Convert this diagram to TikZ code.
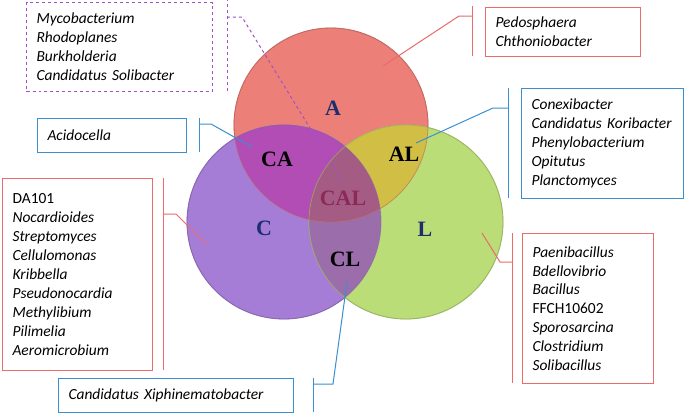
\documentclass[tikz,border=0pt]{standalone}
\usepackage{fontspec}
\setmainfont{Carlito}
\newfontfamily\labfont{Liberation Serif}
\definecolor{aFill}{HTML}{EC7F78}
\definecolor{cFill}{HTML}{A67DD6}
\definecolor{lFill}{HTML}{BBDD77}
\definecolor{caFill}{HTML}{B24DB6}
\definecolor{alFill}{HTML}{D0BE45}
\definecolor{clFill}{HTML}{9B6DAB}
\definecolor{calFill}{HTML}{A45C84}
\definecolor{labBlue}{HTML}{1C2E6E}
\definecolor{calText}{HTML}{8A2A55}
\definecolor{boxRed}{HTML}{EB6A6A}
\definecolor{boxBlue}{HTML}{3A8FD0}
\definecolor{boxViolet}{HTML}{A050C8}
\tikzset{
  genbox/.style={draw, line width=1.1bp, rectangle, anchor=north west, inner xsep=10bp,
    align=left, font=\fontsize{15.5}{19}\selectfont\itshape},
  redbox/.style={genbox, draw=boxRed},
  bluebox/.style={genbox, draw=boxBlue},
  violetbox/.style={genbox, draw=boxViolet, dashed},
  redlink/.style={draw=boxRed, line width=1bp},
  bluelink/.style={draw=boxBlue, line width=1bp},
  violetlink/.style={draw=boxViolet, line width=1bp, dashed},
  setlab/.style={font=\fontsize{22}{22}\selectfont\labfont\bfseries, inner sep=0pt},
}
\begin{document}
\begin{tikzpicture}[x=1bp,y=-1bp]
\useasboundingbox[fill=white] (0,0) rectangle (685,414);
% circles
\node[circle, minimum size=194bp, fill=aFill, draw=aFill!85!black, line width=0.8bp] (A) at (331,125) {};
\node[circle, minimum size=194bp, fill=cFill, draw=cFill!85!black, line width=0.8bp] (C) at (284,222) {};
\node[circle, minimum size=194bp, fill=lFill, draw=lFill!85!black, line width=0.8bp] (L) at (406,222) {};
\begin{scope}
  \clip (C.center) circle[radius=97bp];
  \fill[caFill] (A.center) circle[radius=97bp];
  \fill[clFill] (L.center) circle[radius=97bp];
\end{scope}
\begin{scope}
  \clip (A.center) circle[radius=97bp];
  \fill[alFill] (L.center) circle[radius=97bp];
  \clip (C.center) circle[radius=97bp];
  \fill[calFill] (L.center) circle[radius=97bp];
\end{scope}
\draw[line width=0.8bp, draw=aFill!80!black, opacity=0.6] (A.center) circle[radius=97bp];
\draw[line width=0.8bp, draw=cFill!80!black, opacity=0.6] (C.center) circle[radius=97bp];
\draw[line width=0.8bp, draw=lFill!80!black, opacity=0.6] (L.center) circle[radius=97bp];
% region labels
\node[setlab, text=labBlue] (labA) at (333,108) {A};
\node[setlab, text=labBlue] (labC) at (264,228) {C};
\node[setlab, text=labBlue] (labL) at (425,229) {L};
\node[setlab] (labCA) at (277,159) {CA};
\node[setlab] (labAL) at (404,154) {AL};
\node[setlab, text=calText] (labCAL) at (343,198) {CAL};
\node[setlab] (labCL) at (345,259) {CL};
% boxes
\node[violetbox, text width=166bp, minimum height=89bp] (core) at (26,2)
  {Mycobacterium\\Rhodoplanes\\Burkholderia\\Candidatus Solibacter};
\node[redbox, text width=135bp, minimum height=49bp] (onlyA) at (485,7)
  {Pedosphaera\\Chthoniobacter};
\node[bluebox, text width=142bp, minimum height=110bp] (onlyAL) at (521,88)
  {Conexibacter\\Candidatus Koribacter\\Phenylobacterium\\Opitutus\\Planctomyces};
\node[bluebox, text width=129bp, minimum height=34bp] (onlyCA) at (37,118)
  {Acidocella};
\node[redbox, text width=130bp, minimum height=192bp] (onlyC) at (2,178)
  {\textup{DA101}\\Nocardioides\\Streptomyces\\Cellulomonas\\Kribbella\\Pseudonocardia\\Methylibium\\Pilimelia\\Aeromicrobium\\[6bp]};
\node[redbox, text width=111bp, minimum height=150bp] (onlyL) at (522,233)
  {Paenibacillus\\Bdellovibrio\\Bacillus\\\textup{FFCH10602}\\Sporosarcina\\Clostridium\\Solibacillus};
\node[bluebox, text width=215bp, minimum height=34bp] (onlyCL) at (58,378)
  {Candidatus Xiphinematobacter};
% brackets and links
\coordinate (coreTop) at (227,-2);   \coordinate (coreBot) at (227,92);
\coordinate (coreStub) at (227,17);  \coordinate (coreKnee) at (242,17);
\coordinate (coreEnd) at (343,182);
\draw[violetlink] (coreTop) -- (coreBot);
\draw[violetlink] (coreStub) -- (coreKnee) -- (coreEnd);
\coordinate (aTop) at (472,6);   \coordinate (aBot) at (472,56);
\coordinate (aStub) at (472,16); \coordinate (aKnee) at (459,16);
\coordinate (aEnd) at (383,66);
\draw[redlink] (aTop) -- (aBot);
\draw[redlink] (aStub) -- (aKnee) -- (aEnd);
\coordinate (alTop) at (508,88);   \coordinate (alBot) at (508,198);
\coordinate (alStub) at (508,108); \coordinate (alKnee) at (493,108);
\coordinate (alEnd) at (416,143);
\draw[bluelink] (alTop) -- (alBot);
\draw[bluelink] (alStub) -- (alKnee) -- (alEnd);
\coordinate (caTop) at (199,118);   \coordinate (caBot) at (199,152);
\coordinate (caStub) at (199,124);  \coordinate (caKnee) at (211,124);
\coordinate (caEnd) at (252,147);
\draw[bluelink] (caTop) -- (caBot);
\draw[bluelink] (caStub) -- (caKnee) -- (caEnd);
\coordinate (cTop) at (163,178);   \coordinate (cBot) at (163,370);
\coordinate (cStub) at (163,214);  \coordinate (cKnee) at (176,214);
\coordinate (cEnd) at (207,245);
\draw[redlink] (cTop) -- (cBot);
\draw[redlink] (cStub) -- (cKnee) -- (cEnd);
\coordinate (lTop) at (512,233);   \coordinate (lBot) at (512,383);
\coordinate (lStub) at (512,262);  \coordinate (lKnee) at (500,262);
\coordinate (lEnd) at (482,233);
\draw[redlink] (lTop) -- (lBot);
\draw[redlink] (lStub) -- (lKnee) -- (lEnd);
\coordinate (clTop) at (313,378);   \coordinate (clBot) at (313,412);
\coordinate (clStub) at (313,384);  \coordinate (clKnee) at (333,384);
\coordinate (clEnd) at (347,282);
\draw[bluelink] (clTop) -- (clBot);
\draw[bluelink] (clStub) -- (clKnee) -- (clEnd);
\end{tikzpicture}
\end{document}
